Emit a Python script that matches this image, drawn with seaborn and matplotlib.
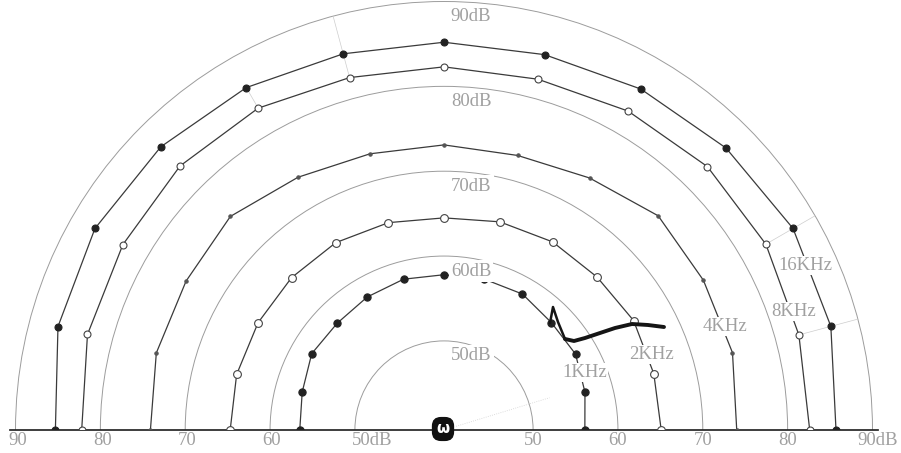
import numpy as np
import pandas as pd
import matplotlib
matplotlib.use("Agg")
import matplotlib.pyplot as plt
from matplotlib.lines import Line2D
import seaborn as sns

# Directivity of the sound level around the listener, per test frequency
angles_deg = [0, 15, 30, 45, 60, 75, 90, 105, 120, 135, 150, 165, 180]
level_1k = [56.1, 56.7, 57.4, 57.4, 58.0, 57.9, 57.8, 57.9, 57.6, 57.3, 57.5, 56.8, 56.5]
level_2k = [65.1, 65.1, 65.3, 65.0, 65.1, 64.9, 64.5, 64.8, 65.0, 64.9, 64.8, 64.8, 64.7]
level_4k = [74.0, 74.7, 74.8, 75.2, 73.8, 73.0, 73.1, 73.2, 73.9, 75.1, 74.6, 74.6, 74.1]
level_8k = [82.6, 82.8, 83.3, 83.4, 82.9, 82.3, 82.3, 82.5, 83.3, 83.5, 83.2, 83.0, 82.2]
level_16k = [85.7, 86.7, 87.0, 86.5, 85.9, 85.3, 85.2, 85.4, 86.1, 86.7, 87.0, 86.6, 85.3]
series_names = ["1KHz", "2KHz", "4KHz", "8KHz", "16KHz"]

ring_levels = [50, 60, 70, 80, 90]
left_ticks = ["90", "80", "70", "60", "50dB"]
right_ticks = ["50", "60", "70", "80", "90dB"]

levels = [level_1k, level_2k, level_4k, level_8k, level_16k]
df = pd.concat(
    [pd.DataFrame({"theta": np.deg2rad(angles_deg), "level": lv, "freq": nm})
     for nm, lv in zip(series_names, levels)],
    ignore_index=True,
)

sns.set_theme(style="white")
plt.rcParams["font.family"] = ["Liberation Serif", "DejaVu Serif"]

W, H = 901, 453
fig = plt.figure(figsize=(W / 100, H / 100), dpi=100)
fig.patch.set_facecolor("white")

R_ORIGIN, R_MAX = 39.5, 90.6
px_per_db = 8.485
cx, cy = 444, 430  # pole position in pixels from the top-left corner
side = 2 * (R_MAX - R_ORIGIN) * px_per_db
ax = fig.add_axes([(cx - side / 2) / W, ((H - cy) - 0.25 * side) / H, side / W, side / H],
                  projection="polar")
ax.set_thetamin(0)
ax.set_thetamax(180)
ax.patch.set_alpha(0)

grid_col = "#9c9c9c"
text_col = "#a0a0a0"
line_col = "#3a3a3a"

styles = {
    "1KHz": dict(marker="o", markersize=5.2, markerfacecolor="#222222", markeredgecolor="#222222"),
    "2KHz": dict(marker="o", markersize=5.6, markerfacecolor="white", markeredgecolor="#444444"),
    "4KHz": dict(marker="o", markersize=2.4, markerfacecolor="#555555", markeredgecolor="#555555"),
    "8KHz": dict(marker="o", markersize=5.0, markerfacecolor="white", markeredgecolor="#444444"),
    "16KHz": dict(marker="o", markersize=5.0, markerfacecolor="#222222", markeredgecolor="#222222"),
}
for nm in series_names:
    sns.lineplot(data=df[df["freq"] == nm], x="theta", y="level", ax=ax,
                 color=line_col, linewidth=0.9, estimator=None, sort=False,
                 legend=False, zorder=3, markeredgewidth=0.8, **styles[nm])

# faint radial guide strokes
guides = [(15, level_8k[1], 90), (30, level_8k[2], 90), (105, level_8k[7], 90),
          (120, level_8k[8], level_16k[8])]
for a, r1, r2 in guides:
    ax.plot([np.deg2rad(a)] * 2, [r1, r2], color="#cdcdcd", lw=0.5, zorder=1)
ax.plot([np.deg2rad(17)] * 2, [41, 52.5], color="#d2d2d2", lw=0.6, ls=":", zorder=1)

ax.set_yticks(ring_levels)
ax.set_yticklabels([])
ax.set_xticks(np.deg2rad([0, 180]))
ax.set_xticklabels([])
ax.set_rorigin(R_ORIGIN)
ax.set_rlim(R_ORIGIN, R_MAX)
ax.grid(True, color=grid_col, lw=0.7)
for sp in ax.spines.values():
    sp.set_visible(False)
ax.set_xlabel("")
ax.set_ylabel("")

# place the axes so that the pole and ring scale land where intended
for _ in range(3):
    fig.canvas.draw()
    p0 = ax.transData.transform((0.0, R_ORIGIN))
    p1 = ax.transData.transform((0.0, 90.0))
    bb = ax.get_window_extent()
    u = (p0[0] - bb.x0) / bb.width
    v = (p0[1] - bb.y0) / bb.height
    rfrac = (p1[0] - p0[0]) / bb.width
    want_r = (90.0 - R_ORIGIN) * px_per_db
    size = want_r / rfrac
    ax.set_position([(cx - u * size) / W, ((H - cy) - v * size) / H, size / W, size / H])

fs = 13.5
wb = dict(boxstyle="square,pad=0.12", fc="white", ec="none")

# ring captions near the top of each ring
for lv in ring_levels:
    ax.annotate(f"{lv}dB", xy=(np.pi / 2, lv), xytext=(27, -15), textcoords="offset pixels",
                ha="center", va="center", fontsize=fs, color=text_col, bbox=wb, zorder=6)

# level scale along the baseline
for lv, lab in zip(ring_levels, right_ticks):
    if lab.endswith("dB"):
        ax.annotate(lab, xy=(0, lv), xytext=(-15, -11), textcoords="offset pixels",
                    ha="left", va="center", fontsize=fs, color=text_col, annotation_clip=False)
    else:
        ax.annotate(lab, xy=(0, lv), xytext=(0, -11), textcoords="offset pixels",
                    ha="center", va="center", fontsize=fs, color=text_col, annotation_clip=False)
for lv, lab in zip(reversed(ring_levels), left_ticks):
    dx = 17 if lab.endswith("dB") else 2
    ax.annotate(lab, xy=(np.pi, lv), xytext=(dx, -11), textcoords="offset pixels",
                ha="center", va="center", fontsize=fs, color=text_col, annotation_clip=False)

# frequency captions, placed next to each curve's 15 degree point
caption_offsets = {"1KHz": (0, 20), "2KHz": (-2, 19), "4KHz": (-7, 26),
                   "8KHz": (-5, 23), "16KHz": (-25, 61)}
for nm, lv in zip(series_names, levels):
    ax.annotate(nm, xy=(np.deg2rad(15), lv[1]), xytext=caption_offsets[nm],
                textcoords="offset pixels", ha="center", va="center", fontsize=fs,
                color=text_col, bbox=dict(boxstyle="square,pad=0.05", fc="white", ec="none"),
                zorder=6)

# listener symbol at the pole
ax.annotate("ω", xy=(0, R_ORIGIN), xytext=(-1, 1), textcoords="offset pixels",
            ha="center", va="center", fontsize=11, fontweight="bold", color="white",
            family="DejaVu Sans", zorder=7,
            bbox=dict(boxstyle="round,pad=0.3,rounding_size=0.6", fc="#111111", ec="none"))

# hand-drawn pen stroke
tick_px = [(550, 323), (553, 307), (558, 322), (565, 339)]
curve_px = [(565, 339), (574, 341), (585, 338), (600, 333), (615, 328), (632, 324),
            (648, 325), (664, 327)]
for pts, lw in ((tick_px, 1.8), (curve_px, 2.8)):
    xs = [p[0] / W for p in pts]
    ys = [1 - p[1] / H for p in pts]
    fig.add_artist(Line2D(xs, ys, transform=fig.transFigure, color="#151515", lw=lw,
                          solid_capstyle="round", solid_joinstyle="round", zorder=8))

fig.savefig("out.png", dpi=100, facecolor="white")
